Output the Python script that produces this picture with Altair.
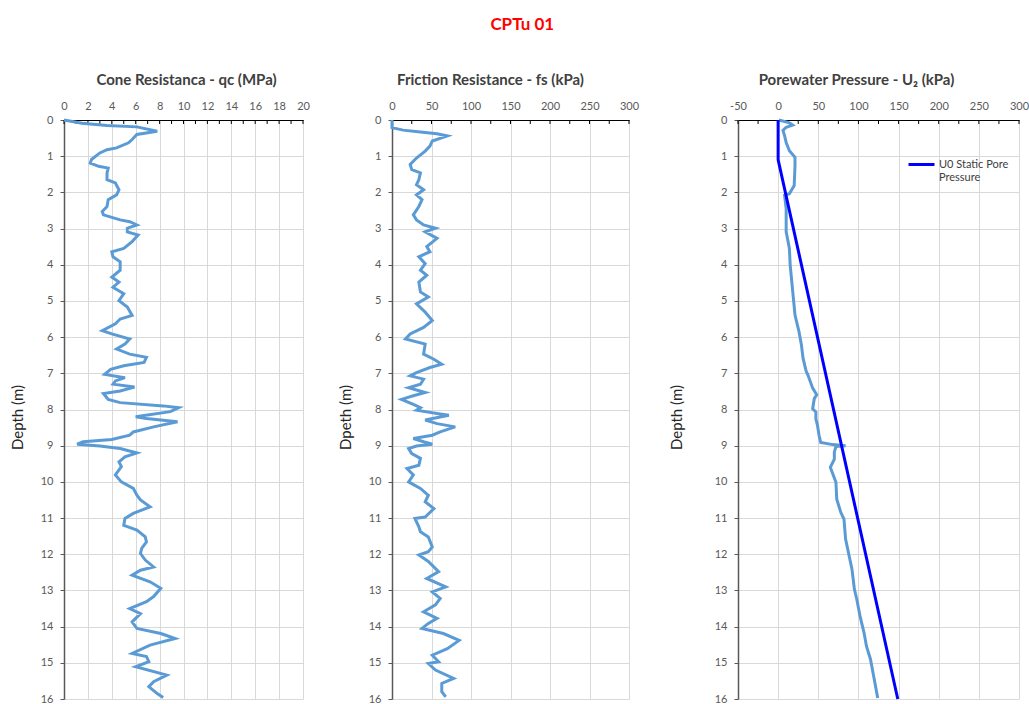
import altair as alt
import pandas as pd

FONT = "Lato"
LIGHT = "#5B9BD5"
DARK = "#0000FF"
GRID = "#D9D9D9"
TXT = "#595959"

# ---------------- data ----------------
qc_depth = [0, 0.09, 0.15, 0.19, 0.31, 0.4, 0.54, 0.63, 0.77, 0.82,
            0.91, 1.09, 1.19, 1.28, 1.33, 1.46, 1.65, 1.74, 1.93, 2.07,
            2.2, 2.39, 2.53, 2.62, 2.76, 2.81, 2.9, 2.99, 3.09, 3.18,
            3.36, 3.55, 3.64, 3.78, 3.92, 4.15, 4.34, 4.48, 4.62, 4.8,
            4.99, 5.17, 5.4, 5.5, 5.63, 5.82, 5.91, 6.05, 6.19, 6.33,
            6.47, 6.56, 6.7, 6.79, 6.89, 7.03, 7.12, 7.21, 7.3, 7.38,
            7.49, 7.56, 7.72, 7.81, 7.9, 7.95, 8.06, 8.2, 8.25, 8.34,
            8.48, 8.62, 8.71, 8.83, 8.89, 8.96, 9.01, 9.08, 9.2, 9.31,
            9.45, 9.58, 9.81, 10.0, 10.18, 10.37, 10.5, 10.69, 10.87, 11.01,
            11.2, 11.33, 11.52, 11.66, 11.84, 11.98, 12.16, 12.35, 12.44, 12.58,
            12.76, 12.94, 13.17, 13.31, 13.5, 13.64, 13.87, 14.05, 14.19, 14.33,
            14.51, 14.74, 14.83, 14.97, 15.11, 15.34, 15.52, 15.66, 15.85, 15.96]
qc_mpa = [0, 1.5, 3.6, 6.1, 7.8, 6.1, 5.7, 5.4, 4.4, 3.6,
          3.0, 2.3, 2.2, 2.9, 3.7, 3.6, 3.6, 4.3, 4.6, 4.4,
          3.7, 3.6, 3.2, 3.3, 4.7, 5.5, 6.1, 5.3, 5.3, 6.2,
          5.7, 5.0, 4.0, 4.1, 4.7, 4.7, 4.0, 4.6, 4.1, 5.0,
          4.6, 5.3, 5.7, 4.7, 4.3, 3.2, 4.0, 5.5, 5.1, 4.4,
          5.5, 6.9, 6.7, 5.0, 3.9, 3.4, 5.1, 4.3, 4.1, 5.9,
          4.7, 3.3, 3.7, 4.7, 8.3, 9.6, 8.9, 6.0, 6.9, 9.5,
          7.5, 5.8, 5.5, 4.0, 1.6, 1.1, 3.0, 4.7, 6.1, 5.1,
          4.6, 4.8, 4.3, 4.8, 5.8, 6.1, 6.4, 7.2, 5.8, 5.1,
          5.0, 6.1, 6.8, 6.9, 6.5, 6.4, 6.8, 7.5, 6.4, 5.7,
          7.2, 8.1, 7.5, 6.9, 5.5, 6.4, 5.7, 6.1, 8.1, 9.3,
          7.2, 5.7, 6.9, 7.1, 6.0, 8.6, 7.5, 7.1, 7.8, 8.3]

fs_depth = [0, 0.21, 0.28, 0.33, 0.38, 0.44, 0.58, 0.72, 0.86, 1.05,
            1.23, 1.37, 1.46, 1.65, 1.79, 1.93, 2.07, 2.2, 2.39, 2.62,
            2.76, 2.9, 2.99, 3.09, 3.27, 3.5, 3.64, 3.78, 3.97, 4.15,
            4.29, 4.48, 4.75, 4.89, 5.08, 5.31, 5.54, 5.73, 5.91, 6.05,
            6.19, 6.47, 6.61, 6.75, 6.84, 6.98, 7.07, 7.16, 7.3, 7.4,
            7.53, 7.62, 7.72, 7.86, 7.95, 8.02, 8.11, 8.16, 8.29, 8.39,
            8.48, 8.62, 8.71, 8.8, 8.89, 8.96, 9.01, 9.08, 9.22, 9.35,
            9.54, 9.63, 9.81, 10.0, 10.18, 10.37, 10.55, 10.74, 10.97, 11.01,
            11.24, 11.38, 11.52, 11.8, 11.93, 12.02, 12.2, 12.48, 12.67, 12.9,
            13.04, 13.22, 13.4, 13.59, 13.77, 13.91, 14.05, 14.19, 14.38, 14.61,
            14.79, 14.97, 15.02, 15.2, 15.43, 15.57, 15.8, 15.94]
fs_kpa = [0, 0, 14, 36, 57, 70, 51, 48, 42, 31,
          23, 25, 36, 34, 31, 40, 31, 38, 34, 27,
          31, 40, 55, 42, 57, 44, 48, 34, 42, 36,
          44, 34, 36, 46, 31, 42, 51, 40, 23, 17,
          42, 40, 53, 63, 48, 31, 23, 40, 36, 21,
          42, 27, 12, 27, 36, 31, 57, 72, 42, 57,
          80, 61, 51, 27, 40, 51, 31, 21, 25, 36,
          34, 19, 27, 21, 36, 46, 42, 53, 42, 29,
          34, 36, 46, 51, 46, 34, 46, 59, 44, 68,
          51, 61, 55, 40, 57, 46, 38, 65, 85, 70,
          51, 59, 46, 55, 78, 63, 63, 68]

u2_depth = [0, 0.08, 0.14, 0.2, 0.29, 0.43, 0.62, 0.85, 1.03, 1.26,
            1.81, 2.04, 2.08, 2.45, 2.82, 3.09, 3.55, 4.01, 4.47, 4.93,
            5.39, 5.85, 6.22, 6.58, 6.95, 7.04, 7.41, 7.59, 7.7, 7.98,
            8.07, 8.26, 8.44, 8.72, 8.91, 8.97, 9.0, 9.02, 9.18, 9.37,
            9.6, 10.01, 10.48, 10.84, 11.03, 11.58, 12.0, 12.42, 12.97, 13.25,
            13.71, 14.17, 14.54, 14.9, 15.37, 15.97]
u2_kpa = [1, 14, 18, 10, 6, 8, 10, 14, 21, 21,
          20, 14, 8, 10, 10, 10, 14, 15, 17, 19,
          21, 26, 29, 31, 35, 37, 43, 48, 45, 43,
          47, 47, 49, 51, 53, 68, 84, 72, 70, 70,
          65, 72, 73, 78, 82, 84, 88, 92, 95, 98,
          102, 107, 110, 115, 119, 124]

u0_depth = [0, 1.1, 16]
u0_kpa = [0, 0, 149]
u0_name = "U0 Static Pore Pressure"

qc_major = [0, 2, 4, 6, 8, 10, 12, 14, 16, 18, 20]
qc_minor = list(range(0, 21))
fs_major = [0, 50, 100, 150, 200, 250, 300]
fs_minor = list(range(0, 301, 25))
u_major = [-50, 0, 50, 100, 150, 200, 250, 300]
u_minor = list(range(-50, 301, 25))
depth_ticks = list(range(0, 17))

H = 579


def frame(depth, values, extra=None):
    df = pd.DataFrame({"depth": depth, "x": values})
    df["i"] = range(len(df))
    if extra:
        for k, v in extra.items():
            df[k] = v
    return df


def panel(layers_data, domain, major, minor, title, ytitle, width, title_x, title_dx):
    xenc = alt.X(
        "x:Q",
        scale=alt.Scale(domain=domain, nice=False, zero=False),
        axis=alt.Axis(
            orient="top", values=major, grid=True, gridColor=GRID, gridWidth=1,
            ticks=False, tickSize=0, labelPadding=9, labelFontSize=11,
            labelColor=TXT, labelFont=FONT, domainColor="#000000", domainWidth=1,
            title=None, labelFlush=False, labelExpr="'' + datum.value",
        ),
    )
    yenc = alt.Y(
        "depth:Q",
        scale=alt.Scale(domain=[0, 16], reverse=True, nice=False, zero=False),
        axis=alt.Axis(
            values=depth_ticks, grid=True, gridColor=GRID, gridWidth=1,
            tickSize=4, tickColor=TXT, domainColor=TXT, domainWidth=1.5,
            labelFontSize=11, labelColor=TXT, labelFont=FONT, labelPadding=7,
            title=ytitle, titleX=title_x, titleY=297, titleBaseline="middle",
            titleAngle=270, titleFontSize=15, titleFontWeight="normal",
            titleColor="#262626", titleFont=FONT,
        ),
    )
    ticks = alt.Chart(pd.DataFrame({"x": minor})).mark_rule(
        color="#000000", strokeWidth=1
    ).encode(x=xenc, y=alt.value(0), y2=alt.value(4))
    layers = [ticks] + [lay(xenc, yenc) for lay in layers_data]
    return alt.layer(*layers).properties(
        width=width, height=H,
        title=alt.TitleParams(title, fontSize=15, fontWeight="bold", font=FONT,
                              color="#404040", offset=12, frame="group",
                              dx=title_dx),
    )


qc_df = frame(qc_depth, qc_mpa)
fs_df = frame(fs_depth, fs_kpa)
u2_df = frame(u2_depth, u2_kpa)
u0_df = frame(u0_depth, u0_kpa, {"s": u0_name})


def line_layer(df, color, sw):
    def f(xenc, yenc):
        return alt.Chart(df).mark_line(color=color, strokeWidth=sw).encode(
            x=xenc, y=yenc, order="i:Q")
    return f


def u0_layer(xenc, yenc):
    return alt.Chart(u0_df).mark_line(strokeWidth=3).encode(
        x=xenc, y=yenc, order="i:Q",
        color=alt.Color(
            "s:N",
            scale=alt.Scale(domain=[u0_name], range=[DARK]),
            legend=alt.Legend(
                orient="none", legendX=843, legendY=30, title=None,
                labelFontSize=11, labelColor="#404040", labelFont=FONT,
                symbolType="stroke", symbolStrokeWidth=3, symbolSize=676,
                labelExpr="['U0 Static Pore', 'Pressure']", labelOffset=3,
            ),
        ),
    )


p1 = panel([line_layer(qc_df, LIGHT, 3)], [0, 20], qc_major, qc_minor,
           "Cone Resistanca - qc (MPa)", "Depth (m)", 239, -47, 3)
p2 = panel([line_layer(fs_df, LIGHT, 3)], [0, 300], fs_major, fs_minor,
           "Friction Resistance - fs (kPa)", "Dpeth (m)", 237, -47, -20)
p3 = panel([line_layer(u2_df, LIGHT, 3), u0_layer], [-50, 300], u_major, u_minor,
           "Porewater Pressure - U\u2082 (kPa)", "Depth (m)", 281, -62, -22)

inner = alt.hconcat(p1, p2, spacing=28)
chart = alt.hconcat(inner, p3, spacing=30).properties(
    title=alt.TitleParams("CPTu 01", fontSize=17, fontWeight="bold", font=FONT,
                          color="#FF0000", anchor="middle", offset=39, dx=3),
    padding={"left": 10, "top": 16, "right": 0, "bottom": 0},
    background="white",
).configure_view(stroke=None)

chart.save("out.html", embed_options={"renderer": "svg", "actions": False})
